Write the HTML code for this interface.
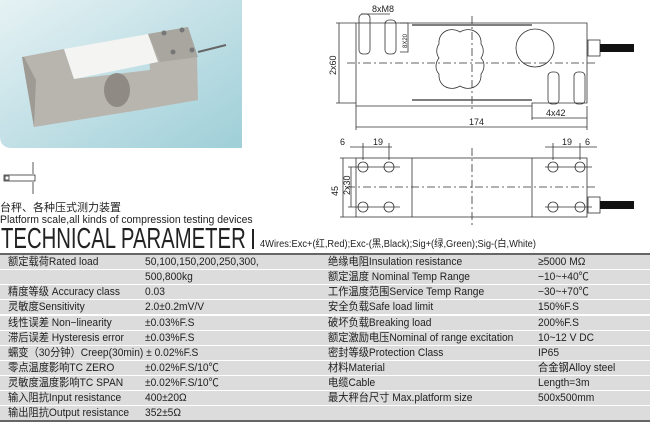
<!DOCTYPE html>
<html><head><meta charset="utf-8"><style>
body{margin:0;width:650px;height:422px;background:#fff;position:relative;overflow:hidden;font-family:"Liberation Sans","Noto Sans CJK SC",sans-serif;color:#222}
.abs{position:absolute;white-space:nowrap}
.row{position:absolute;left:0;width:650px;height:14px;background:#dcdcdc;font-size:11px;line-height:14px}
.row span{position:absolute;top:0;display:inline-block;transform:scaleX(0.93);transform-origin:left}
</style></head><body>
<svg class="abs" style="left:0;top:0" width="650" height="230" viewBox="0 0 650 230">
<defs><linearGradient id="bg" x1="0" y1="0" x2="1" y2="1"><stop offset="0" stop-color="#e6f2f4"/><stop offset="0.5" stop-color="#c2e0e6"/><stop offset="1" stop-color="#9fcfd8"/></linearGradient></defs>
<path d="M0 0H242V148H12Q0 148 0 136Z" fill="url(#bg)"/>
<polygon points="22,57 64,49 74,79 150,70 148,34 188,27 197,57 198,100 140,110 34,127" fill="#b8b4ae"/>
<polygon points="64,49 148,34 158,62 74,79" fill="#f4f4f2"/>
<polygon points="148,34 188,27 198,57 160,62" fill="#a9a59f"/>
<polygon points="22,57 34,127 36,80 24,57" fill="#9e9a94"/>
<ellipse cx="117" cy="90" rx="13" ry="17" fill="#8f8a84"/>
<circle cx="164" cy="33" r="2.5" fill="#777"/><circle cx="182" cy="30" r="2.5" fill="#777"/><circle cx="173" cy="52" r="2.5" fill="#777"/><circle cx="192" cy="50" r="2.5" fill="#777"/>
<path d="M198 52L226 45" stroke="#666" stroke-width="2"/>
<g stroke="#333" fill="none" stroke-width="0.8">
<rect x="4" y="175" width="31" height="6"/><rect x="5" y="176" width="4" height="4"/>
<path d="M33 162V174M33 182V194"/>
<path d="M356 23H587V103H532V106H356Z"/>
<path d="M336 23H356M336 103H356M339 23V103"/>
<path d="M347 63H597M472 16V112" stroke-dasharray="8,3,2,3"/>
<path d="M412 25H532M412 100H532" stroke="#555" stroke-width="1.5"/>
<path d="M460 32c-10-6-22 0-21 12c-3 4-3 10 0 14c-4 5-4 12 0 16c-1 12 11 18 21 12c10 6 22 0 21-12c4-5 4-12 0-16c3-4 3-10 0-14c1-12-11-18-21-12z"/>
<circle cx="535" cy="48" r="19"/>
<rect x="359" y="14" width="11" height="40" rx="4"/><rect x="385" y="20" width="11" height="34" rx="4"/>
<rect x="548" y="72" width="11" height="32" rx="4"/><rect x="574" y="72" width="11" height="32" rx="4"/>
<path d="M400 23H408V52H400"/>
<path d="M356 106V130M587 106V130M356 127H587M532 106V120M532 118H587"/>
<path d="M361 14H390"/>
<rect x="356" y="158" width="231" height="59"/>
<path d="M412 158V217M532 158V217"/>
<path d="M472 148V225M347 187H597" stroke-dasharray="8,3,2,3"/>
<circle cx="363" cy="167" r="5"/><circle cx="389" cy="167" r="5"/><circle cx="363" cy="207" r="5"/><circle cx="389" cy="207" r="5"/>
<circle cx="553" cy="167" r="5"/><circle cx="580" cy="167" r="5"/><circle cx="553" cy="207" r="5"/><circle cx="580" cy="207" r="5"/>
<path d="M340 158H356M340 217H356M343 158V217M348 167H400M348 207H400M351 167V207"/>
<path d="M350 147H392M363 143V160M389 143V160M545 147H597M553 143V160M580 143V160M545 167H592M545 207H592"/>
<rect x="588" y="40" width="12" height="16"/><rect x="588" y="197" width="12" height="16"/>
</g>
<path d="M600 44H634V52H600ZM600 201H634V209H600Z" fill="#111"/>
<g font-size="9" fill="#222" font-family="Liberation Sans,sans-serif">
<text x="372" y="12">8xM8</text><text x="469" y="125">174</text><text x="546" y="116">4x42</text>
<text x="340" y="145">6</text><text x="373" y="145">19</text><text x="562" y="145">19</text><text x="585" y="145">6</text>
<text transform="translate(336,75) rotate(-90)">2x60</text>
<text transform="translate(338,196) rotate(-90)">45</text>
<text transform="translate(350,195) rotate(-90)">2x30</text>
<text transform="translate(407,48) rotate(-90)" font-size="6">8X20</text>
</g>
</svg>
<div class="abs" style="left:0;top:202px;font-size:11px;line-height:12px">台秤、各种压式测力装置</div>
<div class="abs" style="left:0;top:214px;font-size:11px;line-height:12px;transform:scaleX(0.95);transform-origin:left">Platform scale,all kinds of compression testing devices</div>
<div class="abs" style="left:1px;top:224px;font-size:29px;line-height:30px;transform:scaleX(0.7);transform-origin:left">TECHNICAL PARAMETER</div>
<div class="abs" style="left:252px;top:229px;width:2px;height:20px;background:#222"></div>
<div class="abs" style="left:260px;top:239px;font-size:10px;line-height:12px;transform:scaleX(0.93);transform-origin:left">4Wires:Exc+(红,Red);Exc-(黑,Black);Sig+(绿,Green);Sig-(白,White)</div>
<div class="abs" style="left:0;top:253px;width:650px;height:2px;background:#666"></div>
<div class="abs" style="left:0;top:420px;width:650px;height:2px;background:#666"></div>
<div class="row" style="top:255px"><span style="left:8px">额定载荷Rated load</span><span style="left:145px">50,100,150,200,250,300,</span><span style="left:328px">绝缘电阻Insulation resistance</span><span style="left:538px">≥5000 MΩ</span></div>
<div class="row" style="top:270px"><span style="left:145px">500,800kg</span><span style="left:328px">额定温度 Nominal Temp Range</span><span style="left:538px">−10~+40℃</span></div>
<div class="row" style="top:285px"><span style="left:8px">精度等级 Accuracy class</span><span style="left:145px">0.03</span><span style="left:328px">工作温度范围Service Temp Range</span><span style="left:538px">−30~+70℃</span></div>
<div class="row" style="top:300px"><span style="left:8px">灵敏度Sensitivity</span><span style="left:145px">2.0±0.2mV/V</span><span style="left:328px">安全负载Safe load limit</span><span style="left:538px">150%F.S</span></div>
<div class="row" style="top:316px"><span style="left:8px">线性误差 Non−linearity</span><span style="left:145px">±0.03%F.S</span><span style="left:328px">破坏负载Breaking load</span><span style="left:538px">200%F.S</span></div>
<div class="row" style="top:331px"><span style="left:8px">滞后误差 Hysteresis error</span><span style="left:145px">±0.03%F.S</span><span style="left:328px">额定激励电压Nominal of range excitation</span><span style="left:538px">10~12 V DC</span></div>
<div class="row" style="top:346px"><span style="left:8px">蠕变（30分钟）Creep(30min) ± 0.02%F.S</span><span style="left:328px">密封等级Protection Class</span><span style="left:538px">IP65</span></div>
<div class="row" style="top:361px"><span style="left:8px">零点温度影响TC ZERO</span><span style="left:145px">±0.02%F.S/10℃</span><span style="left:328px">材料Material</span><span style="left:538px">合金钢Alloy steel</span></div>
<div class="row" style="top:376px"><span style="left:8px">灵敏度温度影响TC SPAN</span><span style="left:145px">±0.02%F.S/10℃</span><span style="left:328px">电缆Cable</span><span style="left:538px">Length=3m</span></div>
<div class="row" style="top:391px"><span style="left:8px">输入阻抗Input resistance</span><span style="left:145px">400±20Ω</span><span style="left:328px">最大秤台尺寸 Max.platform size</span><span style="left:538px">500x500mm</span></div>
<div class="row" style="top:406px"><span style="left:8px">输出阻抗Output resistance</span><span style="left:145px">352±5Ω</span></div>
</body></html>
